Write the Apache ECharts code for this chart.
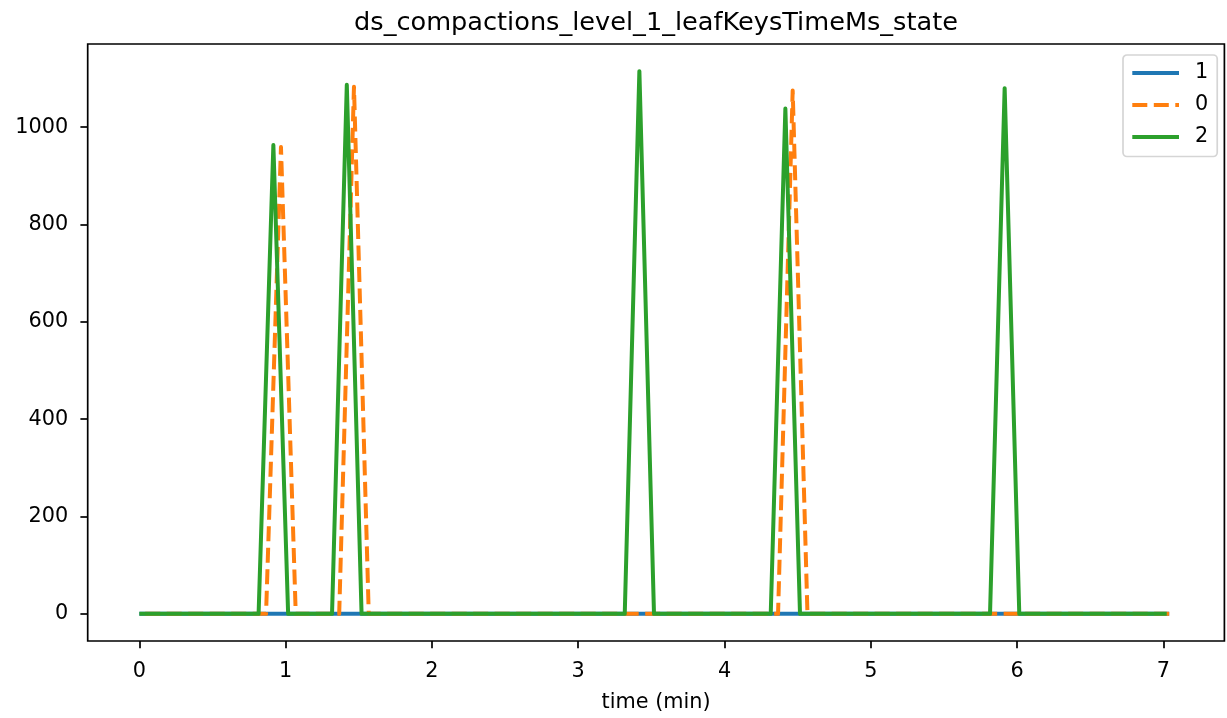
<!DOCTYPE html>
<html>
<head>
<meta charset="utf-8">
<script src="https://cdn.jsdelivr.net/npm/echarts@6/dist/echarts.min.js"></script>
<style>
html,body{margin:0;padding:0;background:#fff;}
#chart{width:1227px;height:718px;}
</style>
</head>
<body>
<div id="chart"></div>
<script>
// ---- data ----
const titleText = 'ds_compactions_level_1_leafKeysTimeMs_state';
const xLabel = 'time (min)';
const xTicks = [0, 1, 2, 3, 4, 5, 6, 7];
const yTicks = [0, 200, 400, 600, 800, 1000];

// series "1" (blue) - flat at zero
const time1 = [0, 7.04];
const vals1 = [0, 0];

// series "0" (orange, dashed)
const time0 = [0.04, 0.866, 0.968, 1.069, 1.366, 1.467, 1.568, 4.366, 4.466, 4.567, 7.064];
const vals0 = [0, 0, 959, 0, 0, 1083, 0, 0, 1075, 0, 0];

// series "2" (green)
const time2 = [0, 0.815, 0.916, 1.017, 1.317, 1.418, 1.519, 3.318, 3.418, 3.518, 4.316, 4.416, 4.516, 5.815, 5.915, 6.015, 7.023];
const vals2 = [0, 0, 963, 0, 0, 1087, 0, 0, 1115, 0, 0, 1038, 0, 0, 1080, 0, 0];

const seriesNames = ['1', '0', '2'];
const colors = ['#1f77b4', '#ff7f0e', '#2ca02c'];

function pairs(t, v) { return t.map((x, i) => [x, v[i]]); }

const allT = time1.concat(time0, time2);
const allV = vals1.concat(vals0, vals2);
const tMin = Math.min(...allT), tMax = Math.max(...allT);
const vMin = Math.min(...allV), vMax = Math.max(...allV);
const tPad = (tMax - tMin) * 0.05, vPad = (vMax - vMin) * 0.05;

const FONT = 'DejaVu Sans';
const chart = echarts.init(document.getElementById('chart'), null, {renderer: 'canvas'});
chart.setOption({
  animation: false,
  backgroundColor: '#ffffff',
  textStyle: {fontFamily: FONT, color: '#000'},
  title: {
    text: titleText,
    left: 651, top: 5, textAlign: 'center',
    textStyle: {fontFamily: FONT, fontSize: 25.6, fontWeight: 'normal', color: '#000'}
  },
  grid: {
    left: 87.7, right: 2.6, top: 44, bottom: 74.7,
    show: true, borderColor: '#000', borderWidth: 1.7, backgroundColor: '#fff',
    containLabel: false
  },
  legend: {
    orient: 'vertical',
    left: 1123, top: 55,
    data: seriesNames,
    itemWidth: 46.7, itemHeight: 20, itemGap: 11,
    padding: [7.5, 9, 9, 7.3],
    borderColor: '#d5d5d5', borderWidth: 1.7, borderRadius: 4,
    backgroundColor: '#fff',
    itemStyle: {opacity: 0, color: 'rgba(0,0,0,0)', borderWidth: 0},
    lineStyle: {width: 4},
    textStyle: {fontFamily: FONT, fontSize: 20.8, color: '#000', lineHeight: 20, padding: [0, 0, 0, 11]}
  },
  xAxis: {
    type: 'value',
    min: tMin - tPad, max: tMax + tPad,
    name: xLabel, nameLocation: 'middle', nameGap: 51,
    nameTextStyle: {fontFamily: FONT, fontSize: 20.8, color: '#000'},
    axisLine: {show: false, onZero: false},
    axisTick: {show: true, inside: false, length: 7.3, lineStyle: {color: '#000', width: 1.7}, customValues: xTicks},
    axisLabel: {show: true, margin: 20, fontFamily: FONT, fontSize: 20.8, color: '#000', customValues: xTicks,
                formatter: v => String(v)},
    splitLine: {show: false}
  },
  yAxis: {
    type: 'value',
    min: vMin - vPad, max: vMax + vPad,
    axisLine: {show: false, onZero: false},
    axisTick: {show: true, inside: false, length: 7.3, lineStyle: {color: '#000', width: 1.7}, customValues: yTicks},
    axisLabel: {show: true, margin: 19.4, fontFamily: FONT, fontSize: 20.8, color: '#000', customValues: yTicks,
                formatter: v => String(v)},
    splitLine: {show: false}
  },
  series: [
    {name: seriesNames[0], type: 'line', data: pairs(time1, vals1), symbol: 'none', color: colors[0],
     lineStyle: {color: colors[0], width: 4, join: 'round', cap: 'butt'}},
    {name: seriesNames[1], type: 'line', data: pairs(time0, vals0), symbol: 'none', color: colors[1],
     lineStyle: {color: colors[1], width: 4, type: [15, 6.5], join: 'round', cap: 'butt'}},
    {name: seriesNames[2], type: 'line', data: pairs(time2, vals2), symbol: 'none', color: colors[2],
     lineStyle: {color: colors[2], width: 4, join: 'round', cap: 'butt'}}
  ]
});
</script>
</body>
</html>
